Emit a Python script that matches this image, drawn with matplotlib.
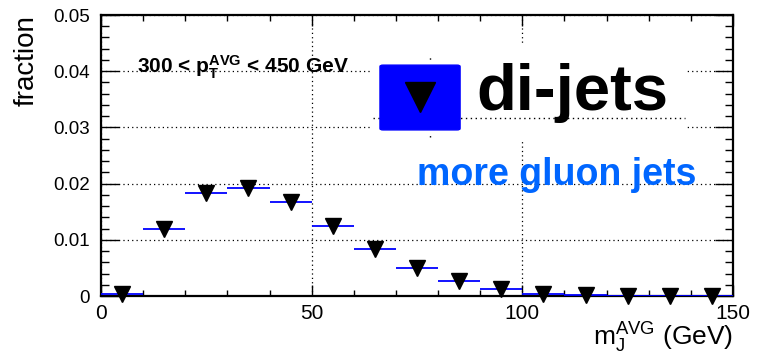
import matplotlib
matplotlib.use('Agg')
import matplotlib.pyplot as plt
from matplotlib.patches import Rectangle, FancyBboxPatch
from matplotlib.lines import Line2D
from matplotlib.ticker import MultipleLocator, FuncFormatter
import numpy as np

plt.rcParams['font.family'] = ['Liberation Sans', 'DejaVu Sans']
plt.rcParams['mathtext.fontset'] = 'custom'
plt.rcParams['mathtext.rm'] = 'Liberation Sans'
plt.rcParams['mathtext.bf'] = 'Liberation Sans:bold'
plt.rcParams['mathtext.it'] = 'Liberation Sans:italic'

# binned jet mass distribution (10 GeV bins)
bin_edges = [0, 10, 20, 30, 40, 50, 60, 70, 80, 90, 100, 110, 120, 130, 140, 150]
fraction = [0.0003, 0.0119, 0.0184, 0.0193, 0.0168, 0.0124, 0.0083, 0.0049,
            0.0026, 0.0012, 0.00035, 0.0001, 0.00002, 0.0, 0.0]
x_ticks = [0, 50, 100, 150]
y_ticks = [0, 0.01, 0.02, 0.03, 0.04, 0.05]

edges = np.array(bin_edges)
centers = 0.5 * (edges[:-1] + edges[1:])

fig = plt.figure(figsize=(7.63, 3.54), dpi=100)
ax = fig.add_axes([0.1324, 0.1638, 0.8283, 0.7938])

ax.set_xlim(0, 150)
ax.set_ylim(0, 0.05)
ax.set_xticks(x_ticks)
ax.set_yticks(y_ticks)
ax.xaxis.set_minor_locator(MultipleLocator(10))
ax.yaxis.set_minor_locator(MultipleLocator(0.002))
ax.yaxis.set_major_formatter(FuncFormatter(lambda v, p: '0' if v == 0 else f'{v:.2f}'))
ax.xaxis.set_major_formatter(FuncFormatter(lambda v, p: f'{v:.0f}'))

ax.tick_params(which='both', direction='in', top=True, right=True, width=1.0)
ax.tick_params(axis='y', which='major', length=13, labelsize=13.5, pad=8)
ax.tick_params(axis='y', which='minor', length=6)
ax.tick_params(axis='x', which='major', length=8, labelsize=15, pad=6)
ax.tick_params(axis='x', which='minor', length=4)
for s in ax.spines.values():
    s.set_linewidth(1.6)

ax.set_axisbelow(True)
ax.grid(True, which='major', color='black', lw=0.9, linestyle=(0, (1, 2.5)))

# histogram + markers
ax.hlines(fraction, edges[:-1], edges[1:], color='blue', lw=1.3, zorder=3)
ax.plot(centers, fraction, 'v', color='black', ms=11, clip_on=False, zorder=4)

# legend box (white background hides grid)
ff = fig.transFigure
ax.add_patch(Rectangle((0.485, 0.605), 0.413, 0.268, transform=ff,
                       facecolor='white', edgecolor='none', zorder=1.5))
ax.add_artist(Line2D([0.489, 0.898], [0.667, 0.667], transform=ff,
                     color='black', lw=1.0, linestyle=(0, (1, 2.5)), zorder=5))
ax.add_artist(Line2D([0.5636, 0.5636], [0.613, 0.853], transform=ff,
                     color='black', lw=1.0, linestyle=(0, (1, 6)), zorder=5))
ax.add_patch(FancyBboxPatch((0.498, 0.633), 0.105, 0.183, transform=ff,
                            boxstyle='round,pad=0,rounding_size=0.004',
                            facecolor='#0000ff', edgecolor='#0000ff', zorder=6))
ax.add_artist(Line2D([0.5505], [0.726], transform=ff, marker='v',
                     color='black', ms=22, zorder=7))

fig.text(0.624, 0.689, 'di-jets', fontsize=47, fontweight='bold', va='baseline', zorder=8)
fig.text(0.546, 0.477, 'more gluon jets', fontsize=27, fontweight='bold', color='#0066ff',
         va='baseline', zorder=8)
fig.text(0.1796, 0.794, r'300 < $\mathbf{p_{T}^{AVG}}$ < 450 GeV', fontsize=15,
         fontweight='bold', va='baseline', zorder=8)

fig.text(733 / 763, 0.0234, r'm$_{\rm J}^{\rm AVG}$ (GeV)', ha='right', va='baseline', fontsize=19)
fig.text(0.035, 0.958, 'fraction', rotation=90, ha='center', va='top', fontsize=20)

fig.savefig('out.png', dpi=100)
